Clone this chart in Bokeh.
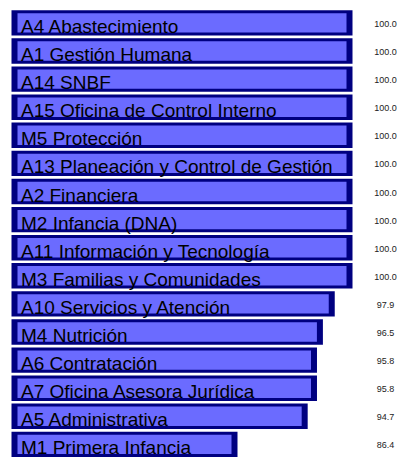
from bokeh.plotting import figure
from bokeh.models import Range1d, ColumnDataSource
from bokeh.core.properties import value
from bokeh.embed import file_html
from bokeh.resources import INLINE

categories = [
    "A4 Abastecimiento", "A1 Gestión Humana", "A14 SNBF", "A15 Oficina de Control Interno",
    "M5 Protección", "A13 Planeación y Control de Gestión", "A2 Financiera", "M2 Infancia (DNA)",
    "A11 Información y Tecnología", "M3 Familias y Comunidades", "A10 Servicios y Atención",
    "M4 Nutrición", "A6 Contratación", "A7 Oficina Asesora Jurídica", "A5 Administrativa",
    "M1 Primera Infancia",
]
values = [100.0, 100.0, 100.0, 100.0, 100.0, 100.0, 100.0, 100.0, 100.0, 100.0,
          97.9, 96.5, 95.8, 95.8, 94.7, 86.4]
value_labels = [f"{v:.1f}" for v in values]

# layout (pixel geometry of the figure)
W, H = 397, 458
ppu = 8.456            # pixels per percentage point
x100 = 352.0           # pixel where 100 lies
x_start = 100.0 - x100 / ppu
x_end = x_start + W / ppu
base = x_start + 11.0 / ppu
pitch = 28.1
first_center = 22.4
y_top = -first_center / pitch
y_bot = y_top + H / pitch
dx = 6.0 / ppu
outer_h = 25.4 / pitch
inner_h = 19.4 / pitch
label_x = x_start + 385.0 / ppu
text_x = x_start + 20.5 / ppu

idx = list(range(len(categories)))
src = ColumnDataSource(dict(
    y=idx, cat=categories, val=values, lab=value_labels,
    left=[base] * len(idx),
    ileft=[base + dx] * len(idx),
    iright=[v - dx for v in values],
    tx=[text_x] * len(idx),
    lx=[label_x] * len(idx),
))

p = figure(width=W, height=H, output_backend="svg", toolbar_location=None,
           x_range=Range1d(x_start, x_end), y_range=Range1d(y_bot, y_top),
           x_axis_location=None, y_axis_location=None,
           min_border=0, min_border_left=0, min_border_right=0,
           min_border_top=0, min_border_bottom=0)
p.grid.visible = False
p.outline_line_color = None
p.background_fill_color = "white"
p.border_fill_color = "white"

p.hbar(y="y", left="left", right="val", height=outer_h, source=src,
       fill_color="#000080", line_color=None)
p.hbar(y="y", left="ileft", right="iright", height=inner_h, source=src,
       fill_color="#6b6bff", line_color=None)
p.text(x="tx", y="y", text="cat", source=src, text_font=value("Liberation Sans"),
       text_font_size="19px", text_color="black", text_baseline="alphabetic",
       y_offset=3.5)
p.text(x="lx", y="y", text="lab", source=src, text_font=value("Liberation Sans"),
       text_font_size="9px", text_color="#222222", text_align="center",
       text_baseline="middle", y_offset=1)

open("out.html", "w").write(file_html(p, INLINE))
